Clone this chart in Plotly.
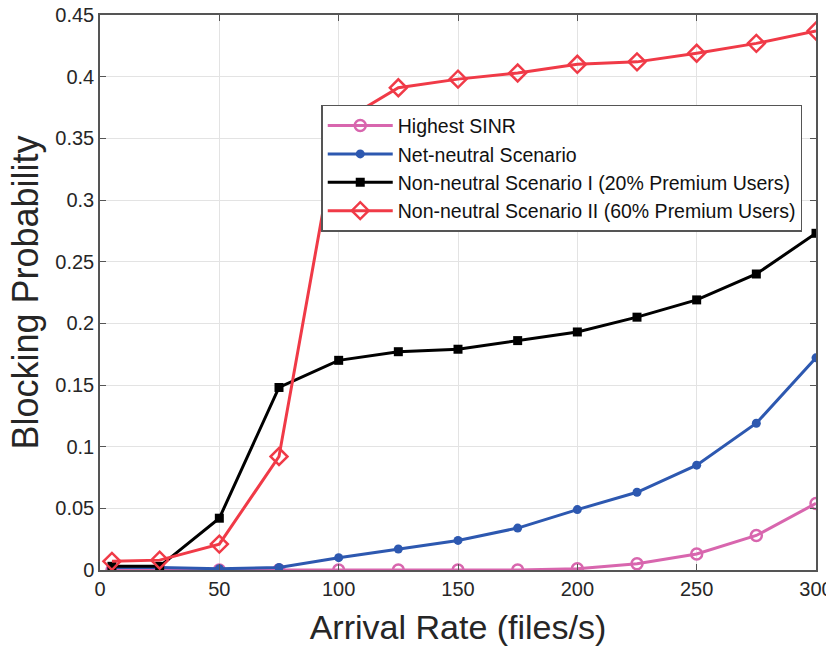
import plotly.graph_objects as go

arrival_rate = [5, 25, 50, 75, 100, 125, 150, 175, 200, 225, 250, 275, 300]
highest_sinr = [0.0, 0.0, 0.0, 0.0, 0.0, 0.0, 0.0, 0.0, 0.001, 0.005, 0.013, 0.028, 0.054]
net_neutral = [0.002, 0.002, 0.001, 0.002, 0.010, 0.017, 0.024, 0.034, 0.049, 0.063, 0.085, 0.119, 0.172]
non_neutral_1 = [0.003, 0.003, 0.042, 0.148, 0.170, 0.177, 0.179, 0.186, 0.193, 0.205, 0.219, 0.240, 0.273]
non_neutral_2 = [0.007, 0.008, 0.021, 0.092, 0.362, 0.391, 0.398, 0.403, 0.410, 0.412, 0.419, 0.427, 0.437]

y_ticks = [0, 0.05, 0.1, 0.15, 0.2, 0.25, 0.3, 0.35, 0.4, 0.45]
y_tick_text = ["0", "0.05", "0.1", "0.15", "0.2", "0.25", "0.3", "0.35", "0.4", "0.45"]
x_ticks = [0, 50, 100, 150, 200, 250, 300]

names = ["Highest SINR", "Net-neutral Scenario",
         "Non-neutral Scenario I (20% Premium Users)",
         "Non-neutral Scenario II (60% Premium Users)"]
colors = ["#D866AE", "#2D58B0", "#000000", "#F03A47"]

FONT = "Liberation Sans, Arial"
TXT = "#262626"

fig = go.Figure()
fig.add_trace(go.Scatter(x=arrival_rate, y=highest_sinr, name=names[0], mode="lines+markers",
                         line=dict(color=colors[0], width=3),
                         marker=dict(symbol="circle-open", size=11, line=dict(width=2.5, color=colors[0]))))
fig.add_trace(go.Scatter(x=arrival_rate, y=net_neutral, name=names[1], mode="lines+markers",
                         line=dict(color=colors[1], width=3),
                         marker=dict(symbol="circle", size=9, color=colors[1])))
fig.add_trace(go.Scatter(x=arrival_rate, y=non_neutral_1, name=names[2], mode="lines+markers",
                         line=dict(color=colors[2], width=3),
                         marker=dict(symbol="square", size=9, color=colors[2])))
fig.add_trace(go.Scatter(x=arrival_rate, y=non_neutral_2, name=names[3], mode="lines+markers",
                         line=dict(color=colors[3], width=3),
                         marker=dict(symbol="diamond-open", size=13, line=dict(width=2.5, color=colors[3]))))

axis_common = dict(showgrid=True, gridcolor="#E3E3E3", gridwidth=1, showline=True, linecolor="#555555",
                   linewidth=1.5, mirror="ticks", ticks="inside", ticklen=6, tickcolor="#555555",
                   zeroline=False, automargin=False, tickfont=dict(family=FONT, size=20, color=TXT))

fig.update_xaxes(range=[0, 300], tickvals=x_ticks, ticklabeloverflow="allow", **axis_common,
                 title=dict(text="Arrival Rate (files/s)", font=dict(family=FONT, size=34, color=TXT),
                            standoff=16))
fig.update_yaxes(range=[0, 0.45], tickvals=y_ticks, ticktext=y_tick_text, **axis_common,
                 title=dict(text="Blocking Probability", font=dict(family=FONT, size=36, color=TXT),
                            standoff=6))

fig.update_layout(
    width=826, height=653,
    margin=dict(l=100, r=10, t=15, b=83),
    plot_bgcolor="white", paper_bgcolor="white",
    legend=dict(x=0.309, y=0.838, xanchor="left", yanchor="top",
                bgcolor="white", bordercolor="#555555", borderwidth=1.5,
                font=dict(family=FONT, size=19.5, color="#111111"),
                tracegroupgap=0, itemwidth=65),
    showlegend=True,
)

fig.write_html("out.html")
